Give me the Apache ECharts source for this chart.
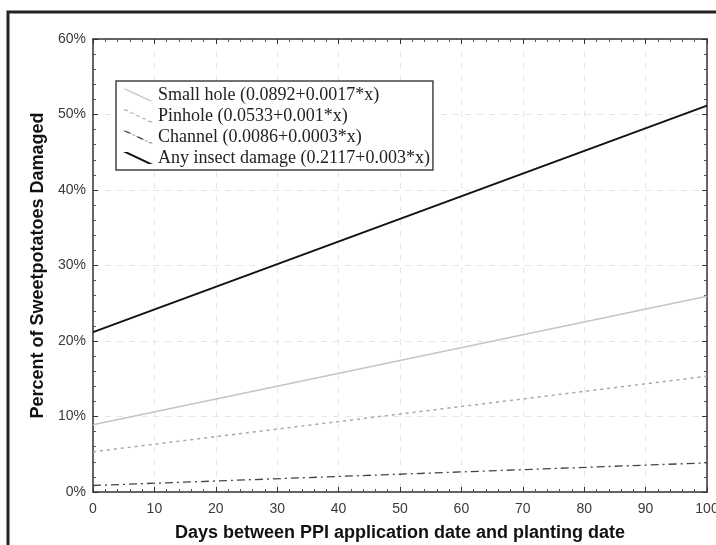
<!DOCTYPE html>
<html>
<head>
<meta charset="utf-8">
<script src="https://cdn.jsdelivr.net/npm/echarts@6/dist/echarts.min.js"></script>
<style>
html, body { margin: 0; padding: 0; background: #fff; }
#chart { width: 716px; height: 545px; }
</style>
</head>
<body>
<div id="chart"></div>
<script>
// days (x) and fitted percentages at the two ends of each line
var days = [0, 100];
var smallHole = [8.92, 25.92];
var pinhole = [5.33, 15.33];
var channel = [0.86, 3.86];
var anyDamage = [21.17, 51.17];
var seriesNames = [
    'Small hole (0.0892+0.0017*x)',
    'Pinhole (0.0533+0.001*x)',
    'Channel (0.0086+0.0003*x)',
    'Any insect damage (0.2117+0.003*x)'
];

function pairs(ys) {
    var out = [];
    for (var i = 0; i < days.length; i++) out.push([days[i], ys[i]]);
    return out;
}

// diagonal legend icon made of pieces [t1,t2] along the line, w = thickness
function diagIcon(pieces, w) {
    var W = 30, H = 14, p = 'path://M0,0L0.01,0Z';
    pieces.forEach(function (s) {
        var x1 = W * s[0], y1 = H * s[0], x2 = W * s[1], y2 = H * s[1];
        p += 'M' + x1 + ',' + y1 + 'L' + (x1 + w) + ',' + y1 + 'L' + (x2 + w) + ',' + y2 + 'L' + x2 + ',' + y2 + 'Z';
    });
    p += 'M' + W + ',' + H + 'L' + (W + 0.01) + ',' + H + 'Z';
    return p;
}
function dashes(on, off, extra) {
    var out = [], t = 0;
    while (t < 1) {
        out.push([t, Math.min(1, t + on)]);
        t += on + off;
        if (extra && t < 1) { out.push([t, Math.min(1, t + extra)]); t += extra + off; }
    }
    return out;
}

var myChart = echarts.init(document.getElementById('chart'));

var tickLabel = { color: '#3a3a3a', fontFamily: 'Liberation Sans', fontSize: 14 };
var titleFont = { fontFamily: 'Liberation Sans', fontWeight: 'bold', fontSize: 18, color: '#111' };
var frameAxis = {
    axisLine: { show: true, onZero: false, lineStyle: { color: '#333', width: 1.5 } },
    axisTick: { show: true, inside: true, length: 5, lineStyle: { color: '#333' } },
    minorTick: { show: true, splitNumber: 5, length: 3, lineStyle: { color: '#555' } },
    axisLabel: { show: false },
    splitLine: { show: false }
};

myChart.setOption({
    animation: false,
    backgroundColor: '#fff',
    graphic: [{
        type: 'rect',
        shape: { x: 8, y: 12, width: 730, height: 560 },
        style: { fill: 'none', stroke: '#222', lineWidth: 3 }
    }],
    grid: { left: 93, top: 39, right: 9, bottom: 53, outerBoundsMode: 'none' },
    legend: {
        orient: 'vertical',
        left: 116,
        top: 81,
        itemGap: 3,
        itemWidth: 30,
        itemHeight: 14,
        padding: [5, 3, 3, 7],
        borderColor: '#444',
        borderWidth: 1.5,
        backgroundColor: '#fff',
        textStyle: { fontFamily: 'Liberation Serif', fontSize: 18, color: '#222' },
        data: [
            { name: seriesNames[0], icon: diagIcon([[0, 1]], 3.5) },
            { name: seriesNames[1], icon: diagIcon(dashes(0.1, 0.12), 3.5) },
            { name: seriesNames[2], icon: diagIcon(dashes(0.22, 0.1, 0.05), 3.5) },
            { name: seriesNames[3], icon: diagIcon([[0, 1]], 5.5) }
        ]
    },
    xAxis: [{
        type: 'value', min: 0, max: 100, interval: 10,
        name: 'Days between PPI application date and planting date',
        nameLocation: 'middle', nameGap: 32,
        nameTextStyle: titleFont,
        axisLine: { show: true, onZero: false, lineStyle: { color: '#333', width: 1.5 } },
        axisTick: { show: true, inside: true, length: 5, lineStyle: { color: '#333' } },
        minorTick: { show: true, splitNumber: 5, length: 3, lineStyle: { color: '#555' } },
        axisLabel: Object.assign({ margin: 10 }, tickLabel),
        splitLine: { show: true, lineStyle: { color: '#e6e6e6', type: [6, 6] } }
    }, Object.assign({ type: 'value', min: 0, max: 100, interval: 10, position: 'top' }, frameAxis)],
    yAxis: [{
        type: 'value', min: 0, max: 60, interval: 10,
        name: 'Percent of Sweetpotatoes Damaged',
        nameLocation: 'middle', nameGap: 41,
        nameTextStyle: titleFont,
        axisLine: { show: true, onZero: false, lineStyle: { color: '#333', width: 1.5 } },
        axisTick: { show: true, inside: true, length: 5, lineStyle: { color: '#333' } },
        minorTick: { show: true, splitNumber: 5, length: 3, lineStyle: { color: '#555' } },
        axisLabel: Object.assign({ margin: 7, formatter: '{value}%' }, tickLabel),
        splitLine: { show: true, lineStyle: { color: '#e6e6e6', type: [6, 6] } }
    }, Object.assign({ type: 'value', min: 0, max: 60, interval: 10, position: 'right' }, frameAxis)],
    series: [{
        name: seriesNames[0], type: 'line', symbol: 'none',
        data: pairs(smallHole),
        itemStyle: { color: '#c4c4c4' },
        lineStyle: { color: '#c4c4c4', width: 1.5 }
    }, {
        name: seriesNames[1], type: 'line', symbol: 'none',
        data: pairs(pinhole),
        itemStyle: { color: '#a8a8a8' },
        lineStyle: { color: '#a8a8a8', width: 1.5, type: [3, 4] }
    }, {
        name: seriesNames[2], type: 'line', symbol: 'none',
        data: pairs(channel),
        itemStyle: { color: '#444' },
        lineStyle: { color: '#444', width: 1.3, type: [8, 4, 2, 4] }
    }, {
        name: seriesNames[3], type: 'line', symbol: 'none',
        data: pairs(anyDamage),
        itemStyle: { color: '#111' },
        lineStyle: { color: '#111', width: 2 }
    }]
});
</script>
</body>
</html>
